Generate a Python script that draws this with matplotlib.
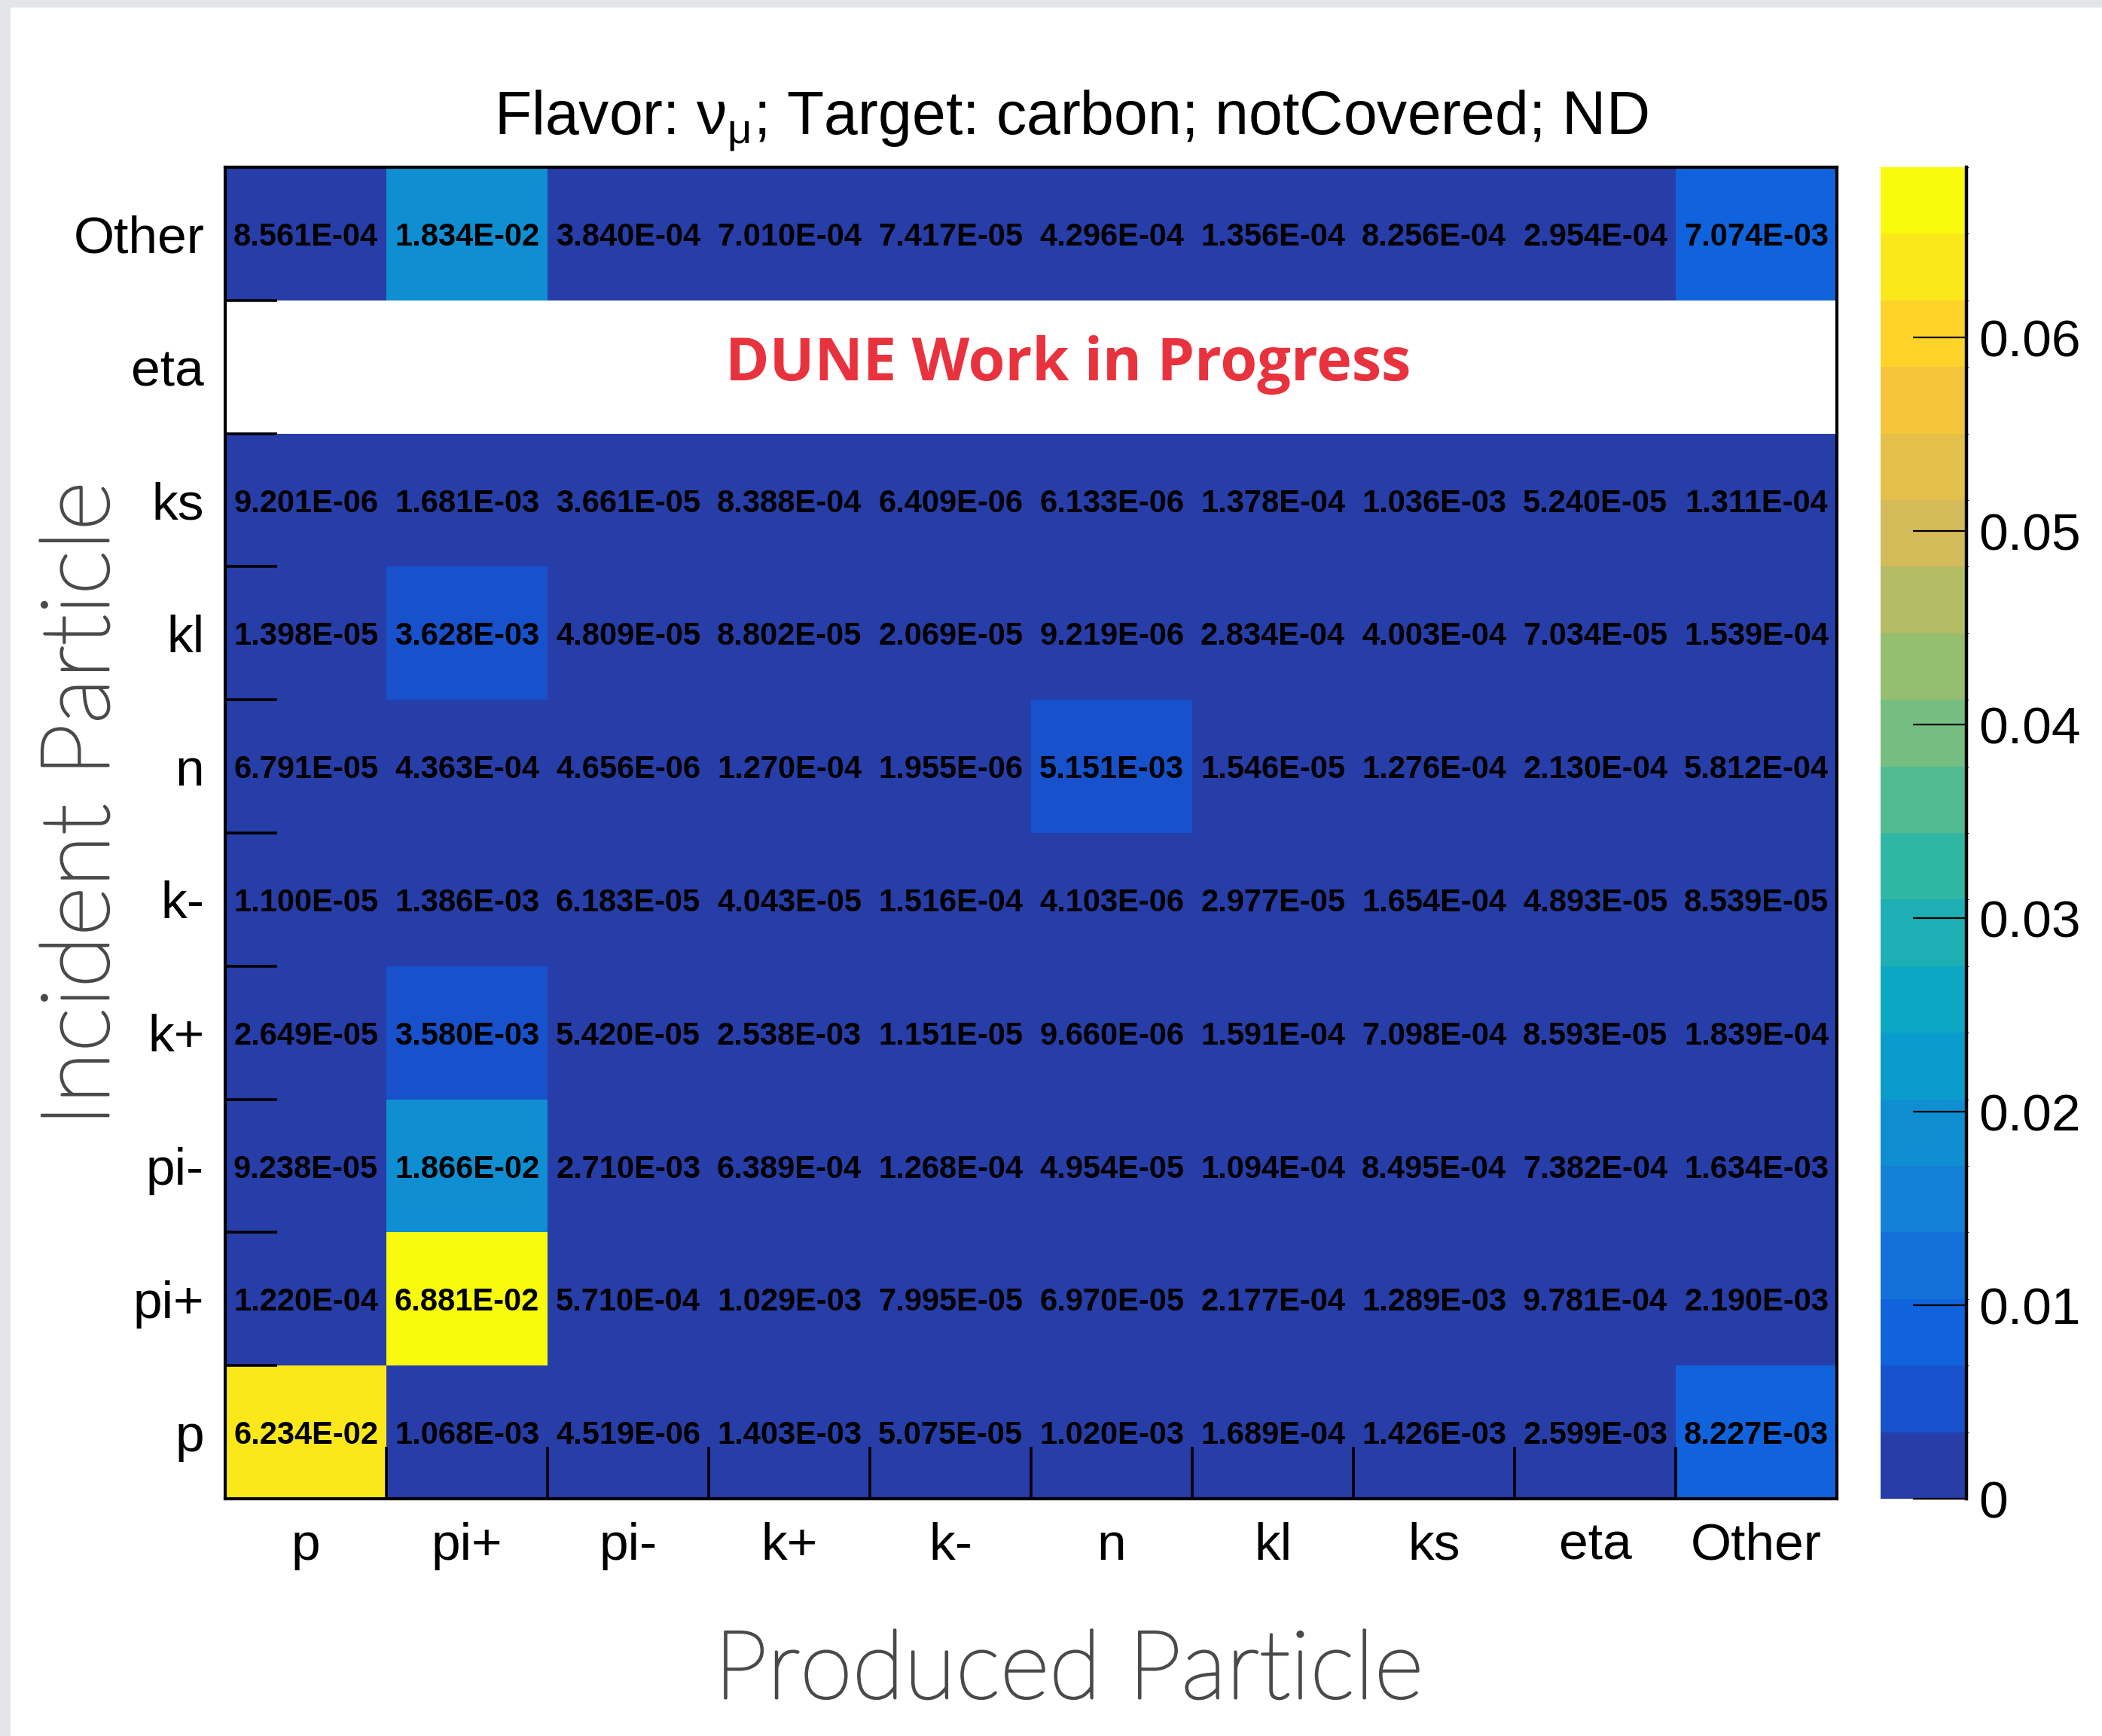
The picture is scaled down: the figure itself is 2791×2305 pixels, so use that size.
import numpy as np
import matplotlib
matplotlib.use('Agg')
import matplotlib.pyplot as plt
import matplotlib.patheffects as pe
from matplotlib.colors import ListedColormap, BoundaryNorm, LinearSegmentedColormap
from matplotlib import font_manager
from matplotlib.patches import Rectangle
from matplotlib.lines import Line2D

# ---------------- data ----------------
produced = ['p', 'pi+', 'pi-', 'k+', 'k-', 'n', 'kl', 'ks', 'eta', 'Other']
incident = ['p', 'pi+', 'pi-', 'k+', 'k-', 'n', 'kl', 'ks', 'eta', 'Other']  # bottom -> top

row_p = [6.234e-02, 1.068e-03, 4.519e-06, 1.403e-03, 5.075e-05, 1.020e-03, 1.689e-04, 1.426e-03, 2.599e-03, 8.227e-03]
row_pip = [1.220e-04, 6.881e-02, 5.710e-04, 1.029e-03, 7.995e-05, 6.970e-05, 2.177e-04, 1.289e-03, 9.781e-04, 2.190e-03]
row_pim = [9.238e-05, 1.866e-02, 2.710e-03, 6.389e-04, 1.268e-04, 4.954e-05, 1.094e-04, 8.495e-04, 7.382e-04, 1.634e-03]
row_kp = [2.649e-05, 3.580e-03, 5.420e-05, 2.538e-03, 1.151e-05, 9.660e-06, 1.591e-04, 7.098e-04, 8.593e-05, 1.839e-04]
row_km = [1.100e-05, 1.386e-03, 6.183e-05, 4.043e-05, 1.516e-04, 4.103e-06, 2.977e-05, 1.654e-04, 4.893e-05, 8.539e-05]
row_n = [6.791e-05, 4.363e-04, 4.656e-06, 1.270e-04, 1.955e-06, 5.151e-03, 1.546e-05, 1.276e-04, 2.130e-04, 5.812e-04]
row_kl = [1.398e-05, 3.628e-03, 4.809e-05, 8.802e-05, 2.069e-05, 9.219e-06, 2.834e-04, 4.003e-04, 7.034e-05, 1.539e-04]
row_ks = [9.201e-06, 1.681e-03, 3.661e-05, 8.388e-04, 6.409e-06, 6.133e-06, 1.378e-04, 1.036e-03, 5.240e-05, 1.311e-04]
row_eta = [0, 0, 0, 0, 0, 0, 0, 0, 0, 0]
row_other = [8.561e-04, 1.834e-02, 3.840e-04, 7.010e-04, 7.417e-05, 4.296e-04, 1.356e-04, 8.256e-04, 2.954e-04, 7.074e-03]

cbar_ticks = [0, 0.01, 0.02, 0.03, 0.04, 0.05, 0.06]
cbar_labels = ['0', '0.01', '0.02', '0.03', '0.04', '0.05', '0.06']

title = r'Flavor: $\mathrm{\nu_{\mu}}$; Target: carbon; notCovered; ND'
xlabel = 'Produced Particle'
ylabel = 'Incident Particle'
watermark = 'DUNE Work in Progress'

# ---------------- fonts ----------------
avail = {f.name for f in font_manager.fontManager.ttflist}
cell_family = 'Liberation Sans Narrow' if 'Liberation Sans Narrow' in avail else 'Liberation Sans'
cell_size = 35 if cell_family == 'Liberation Sans Narrow' else 30

plt.rcParams['font.family'] = ['Liberation Sans', 'DejaVu Sans']
plt.rcParams['mathtext.fontset'] = 'custom'
plt.rcParams['mathtext.rm'] = 'Liberation Sans'
plt.rcParams['mathtext.it'] = 'Liberation Sans'
plt.rcParams['mathtext.bf'] = 'Liberation Sans:bold'

# ---------------- colormap (ROOT kBird, 20 contours) ----------------
stops = [0.0000, 0.1250, 0.2500, 0.3750, 0.5000, 0.6250, 0.7500, 0.8750, 1.0000]
red = [0.2082, 0.0592, 0.0780, 0.0232, 0.1802, 0.5301, 0.8186, 0.9956, 0.9764]
green = [0.1664, 0.3599, 0.5041, 0.6419, 0.7178, 0.7492, 0.7328, 0.7862, 0.9832]
blue = [0.5293, 0.8684, 0.8385, 0.7914, 0.6425, 0.4662, 0.3499, 0.1968, 0.0539]
bird = LinearSegmentedColormap.from_list('bird', list(zip(stops, zip(red, green, blue))))
ncont = 20
fracs = [int((i + 0.99) * 255 / ncont) / 254 for i in range(ncont)]
cmap = ListedColormap([bird(min(f, 1.0)) for f in fracs])
cmap.set_bad('white')

Z = np.array([row_p, row_pip, row_pim, row_kp, row_km, row_n, row_kl, row_ks, row_eta, row_other])
vmax = Z.max()
levels = np.linspace(0, vmax, ncont + 1)
norm = BoundaryNorm(levels, ncont)
Zm = np.ma.masked_where(Z <= 0, Z)

# ---------------- figure ----------------
W, H = 2791, 2305
fig = plt.figure(figsize=(W / 100, H / 100), dpi=100)
fig.patch.set_facecolor('#e3e5e8')
fig.patches.append(Rectangle((14 / W, 0), 1, 1 - 10 / H, transform=fig.transFigure,
                             facecolor='white', edgecolor='none', zorder=-10))

ax = fig.add_axes([299 / W, 1 - 1990 / H, 2140 / W, 1768 / H])
cax = fig.add_axes([2497 / W, 1 - 1990 / H, 114 / W, 1768 / H])

xe = np.arange(len(produced) + 1)
ye = np.arange(len(incident) + 1)
mesh = ax.pcolormesh(xe, ye, Zm, cmap=cmap, norm=norm)
ax.set_xlim(0, len(produced))
ax.set_ylim(0, len(incident))

for i in range(Z.shape[0]):
    for j in range(Z.shape[1]):
        v = Z[i, j]
        if v > 0:
            ax.text(j + 0.5, i + 0.5, f'{v:.3E}', ha='center', va='center_baseline',
                    fontsize=cell_size, fontweight='bold', family=cell_family, color='black')

ax.set_xticks(xe)
ax.set_yticks(ye)
ax.set_xticklabels([])
ax.set_yticklabels([])
ax.set_xticks(xe[:-1] + 0.5, minor=True)
ax.set_yticks(ye[:-1] + 0.5, minor=True)
ax.set_xticklabels(produced, minor=True)
ax.set_yticklabels(incident, minor=True)
ax.tick_params(which='major', direction='in', length=50, width=2.6, bottom=True, left=True,
               top=False, right=False)
ax.tick_params(which='minor', length=0, labelsize=50)
ax.tick_params(axis='x', which='minor', pad=22)
ax.tick_params(axis='y', which='minor', pad=20)
for s in ax.spines.values():
    s.set_linewidth(3.0)
    s.set_color('black')

cb = fig.colorbar(mesh, cax=cax, ticks=cbar_ticks)
cb.outline.set_visible(False)
cax.set_yticklabels(cbar_labels)
cax.tick_params(direction='in', length=51, width=1.6, labelsize=50, pad=12, right=True, left=False)
cax.add_line(Line2D([1, 1], [0, 1], transform=cax.transAxes, color='black', linewidth=3.2, clip_on=False))

# ---------------- texts ----------------
label_col = '#4a4a4a'
thick = [pe.Stroke(linewidth=2.2, foreground=label_col), pe.Normal()]
fig.text(1422 / W, 1 - 178 / H, title, ha='center', va='baseline', fontsize=58)
fig.text(1418 / W, 1 - 484 / H, watermark, ha='center', va='center', fontsize=57,
         fontweight='bold', family=['Open Sans', 'DejaVu Sans'], color='#e8333f')
fig.text(1419 / W, 1 - 2221 / H, xlabel, ha='center', va='center', fontsize=91,
         family=['Lato', 'DejaVu Sans'], fontweight='light', color=label_col, path_effects=thick)
fig.text(110 / W, 1 - 1068 / H, ylabel, ha='center', va='center', rotation=90, fontsize=91,
         family=['Lato', 'DejaVu Sans'], fontweight='light', color=label_col, path_effects=thick)

fig.savefig('out.png', dpi=100, facecolor=fig.get_facecolor())
